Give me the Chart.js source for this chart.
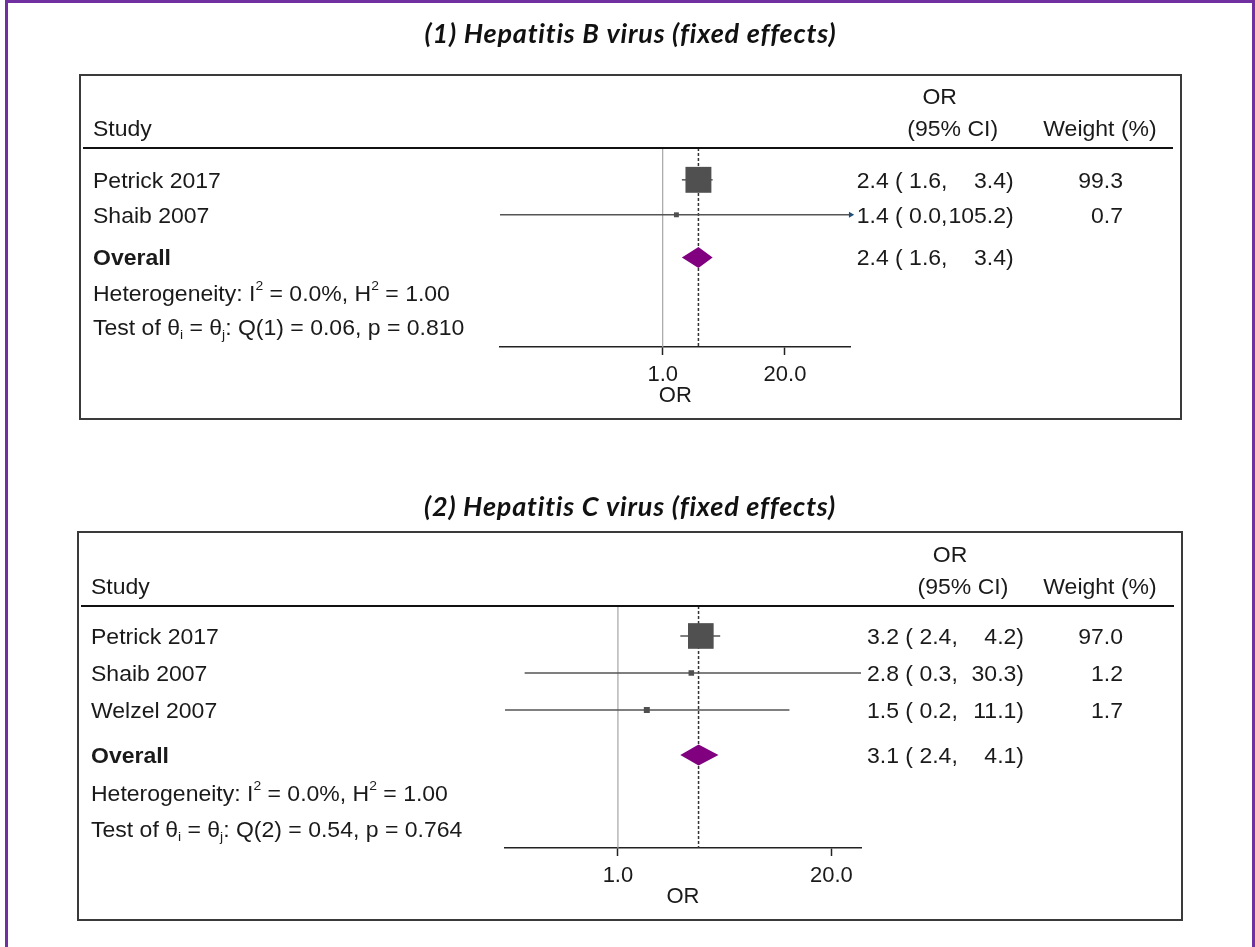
<!DOCTYPE html>
<html><head><meta charset="utf-8">
<script src="https://cdn.jsdelivr.net/npm/chart.js@4.4.1/dist/chart.umd.min.js"></script>
<style>
html,body{margin:0;padding:0;background:#fff;}
body{width:1255px;height:947px;position:relative;overflow:hidden;}
#frame{position:absolute;left:5px;top:0;width:1244px;height:980px;border:3px solid #7030a0;border-bottom:none;}
canvas{position:absolute;left:0;}
#c1{top:0}
#c2{top:470px}
</style></head><body>
<div id="frame"></div>
<canvas id="c1" width="1255" height="470"></canvas>
<canvas id="c2" width="1255" height="477"></canvas>
<script>
// ---------------- data ----------------
const titles = ['(1) Hepatitis B virus (fixed effects)', '(2) Hepatitis C virus (fixed effects)'];

const hbvStudies = ['Petrick 2017', 'Shaib 2007'];
const hbvOR      = [2.4, 1.4];
const hbvLower   = [1.6, 0.0186];
const hbvUpper   = [3.4, 105.2];
const hbvWeight  = [99.3, 0.7];

const hcvStudies = ['Petrick 2017', 'Shaib 2007', 'Welzel 2007'];
const hcvOR      = [3.2, 2.8, 1.5];
const hcvLower   = [2.4, 0.27, 0.205];
const hcvUpper   = [4.2, 30.3, 11.1];
const hcvWeight  = [97.0, 1.2, 1.7];

const overallOR    = [2.4, 3.1];
const overallLower = [1.6, 2.4];
const overallUpper = [3.4, 4.1];

const hetI2 = [0.0, 0.0];
const hetH2 = [1.00, 1.00];
const hetQ  = [0.06, 0.54];
const hetDf = [1, 2];
const hetP  = [0.810, 0.764];

const xTickValues = [1, 20];
const xTickLabels = ['1.0', '20.0'];
const axisMaxCap  = [100, null];

// ---------------- layout (positions only) ----------------
const layouts = [
  {canvas:'c1', H:470, left:500, right:850.7, top:148, bottom:347, box:[80,75,1181,419], titleY:34, studyX:93, yMin:0.09, yMax:5.78},
  {canvas:'c2', H:477, left:505, right:861, top:136, bottom:378, box:[78,62,1182,450], titleY:37, studyX:91, yMin:0.19, yMax:6.73}
];

const FONT = '"Liberation Sans", Arial, Helvetica, sans-serif';
const FS = 21.5;      // table font size
const SX = 1.07;      // horizontal stretch of table text
const DY = 2;         // baseline nudge of table text
const TXT = '#1a1a1a';
const AXIS_H = 60;

function txt(ctx, s, x, y, align, bold) {
  ctx.save();
  ctx.font = (bold ? 'bold ' : '') + FS + 'px ' + FONT;
  ctx.textAlign = align;
  ctx.translate(x, y + DY); ctx.scale(SX, 1);
  ctx.fillText(s, 0, 0);
  ctx.restore();
}

function rich(ctx, x, y, segs) {
  let cx = x;
  for (const s of segs) {
    const small = s.sup || s.sub;
    ctx.save();
    ctx.font = (small ? '13px ' : FS + 'px ') + FONT;
    ctx.textAlign = 'left';
    const dy = s.sup ? -9 : (s.sub ? 6 : 0);
    ctx.translate(cx, y + dy + DY); ctx.scale(SX, 1);
    ctx.fillText(s.t, 0, 0);
    cx += ctx.measureText(s.t).width * SX;
    ctx.restore();
  }
}

function makePanel(k, studies, or, lo, hi, w) {
  const L = layouts[k];
  const n = studies.length;
  const rowY = studies.map((_, i) => i + 1);
  const yOverall = n + 1.22, yHet = n + 2.25, yTest = n + 3.22;
  const xMin = Math.min(...lo);
  const xMax = axisMaxCap[k] != null ? axisMaxCap[k] : Math.max(...hi);

  const datasets = [];
  datasets.push({
    label:'null', data:[{x:1,y:L.yMin},{x:1,y:L.yMax}], showLine:true,
    borderColor:'#a6a6a6', borderWidth:1.2, pointRadius:0, order:6, clip:false
  });
  datasets.push({
    label:'overall line', data:[{x:overallOR[k],y:L.yMin},{x:overallOR[k],y:L.yMax}], showLine:true,
    borderColor:'#333', borderWidth:1.5, borderDash:[3,2], pointRadius:0, order:5, clip:false
  });
  studies.forEach((s, i) => {
    datasets.push({
      label:s + ' CI',
      data:[{x:Math.max(lo[i], xMin), y:rowY[i]}, {x:Math.min(hi[i], xMax), y:rowY[i]}],
      showLine:true, borderColor:'#555', borderWidth:1.5,
      pointRadius:[0, hi[i] > xMax ? 3.5 : 0], pointStyle:'triangle', rotation:90,
      pointBackgroundColor:'#1f4e79', pointBorderWidth:0, order:3, clip:false
    });
  });
  datasets.push({
    label:'OR', data:studies.map((s, i) => ({x:or[i], y:rowY[i]})),
    pointStyle:'rect', pointRadius:w.map(v => (3 + 2.3 * Math.sqrt(v)) / 1.4142),
    backgroundColor:'#505050', pointBorderWidth:0, showLine:false, order:1, clip:false
  });

  const decor = {
    id:'decor' + k,
    afterDatasetsDraw(chart) {
      const ctx = chart.ctx, xs = chart.scales.x, ys = chart.scales.y;
      const x1 = xs.getPixelForValue(overallLower[k]);
      const xc = xs.getPixelForValue(overallOR[k]);
      const x2 = xs.getPixelForValue(overallUpper[k]);
      const yc = ys.getPixelForValue(yOverall);
      ctx.save();
      ctx.fillStyle = '#800080';
      ctx.beginPath();
      ctx.moveTo(x1, yc); ctx.lineTo(xc, yc - 10.5); ctx.lineTo(x2, yc); ctx.lineTo(xc, yc + 10.5);
      ctx.closePath(); ctx.fill();
      ctx.restore();
    },
    afterDraw(chart) {
      const ctx = chart.ctx, ys = chart.scales.y, ca = chart.chartArea;
      ctx.save();
      const b = L.box;
      ctx.strokeStyle = '#3a3a3a'; ctx.lineWidth = 2;
      ctx.strokeRect(b[0], b[1], b[2] - b[0], b[3] - b[1]);
      // title
      ctx.fillStyle = '#111';
      ctx.textAlign = 'center'; ctx.textBaseline = 'middle';
      ctx.font = 'italic 700 27px Lato, "Open Sans", sans-serif';
      ctx.letterSpacing = '0.8px';
      ctx.fillText(titles[k], (b[0] + b[2]) / 2, L.titleY);
      ctx.letterSpacing = '0px';
      // header rule
      ctx.strokeStyle = '#111'; ctx.lineWidth = 2;
      ctx.beginPath(); ctx.moveTo(b[0] + 3, ca.top); ctx.lineTo(b[2] - 8, ca.top); ctx.stroke();
      // header texts
      ctx.fillStyle = TXT;
      const ciStart = ca.right + 6, ciEnd = ciStart + 157, wRight = 1123;
      txt(ctx, 'Study', L.studyX, ca.top - 19.5, 'left');
      txt(ctx, 'OR', ciStart + 83, ca.top - 52, 'center');
      txt(ctx, '(95% CI)', ciStart + 96, ca.top - 19.5, 'center');
      txt(ctx, 'Weight (%)', 1100, ca.top - 19.5, 'center');
      studies.forEach((s, i) => {
        const y = ys.getPixelForValue(rowY[i]);
        txt(ctx, s, L.studyX, y, 'left');
        txt(ctx, or[i].toFixed(1) + ' ( ' + lo[i].toFixed(1) + ',', ciStart, y, 'left');
        txt(ctx, hi[i].toFixed(1) + ')', ciEnd, y, 'right');
        txt(ctx, w[i].toFixed(1), wRight, y, 'right');
      });
      const y = ys.getPixelForValue(yOverall);
      txt(ctx, 'Overall', L.studyX, y, 'left', true);
      txt(ctx, overallOR[k].toFixed(1) + ' ( ' + overallLower[k].toFixed(1) + ',', ciStart, y, 'left');
      txt(ctx, overallUpper[k].toFixed(1) + ')', ciEnd, y, 'right');
      rich(ctx, L.studyX, ys.getPixelForValue(yHet), [
        {t:'Heterogeneity: I'}, {t:'2', sup:true}, {t:' = ' + hetI2[k].toFixed(1) + '%, H'}, {t:'2', sup:true},
        {t:' = ' + hetH2[k].toFixed(2)}
      ]);
      rich(ctx, L.studyX, ys.getPixelForValue(yTest), [
        {t:'Test of \u03B8'}, {t:'i', sub:true}, {t:' = \u03B8'}, {t:'j', sub:true},
        {t:': Q(' + hetDf[k] + ') = ' + hetQ[k].toFixed(2) + ', p = ' + hetP[k].toFixed(3)}
      ]);
      ctx.restore();
    }
  };

  return new Chart(document.getElementById(L.canvas), {
    type:'scatter',
    data:{datasets},
    options:{
      responsive:false, animation:false, events:[],
      layout:{padding:{left:L.left, right:1255 - L.right, top:L.top, bottom:L.H - L.bottom - AXIS_H}},
      plugins:{legend:{display:false}, tooltip:{enabled:false}, title:{display:false}},
      scales:{
        x:{
          type:'logarithmic', min:xMin, max:xMax,
          afterBuildTicks:(s) => { s.ticks = xTickValues.map(v => ({value:v})); },
          afterFit:(s) => { s.height = AXIS_H; },
          ticks:{
            autoSkip:false, maxRotation:0, padding:9, color:TXT,
            font:{family:FONT, size:22, lineHeight:1},
            callback:(v) => xTickLabels[xTickValues.indexOf(v)]
          },
          grid:{display:true, drawOnChartArea:false, drawTicks:true, tickLength:8, tickColor:'#222', tickWidth:1.5},
          border:{display:true, color:'#222', width:1.5},
          title:{display:true, text:'OR', color:TXT, font:{family:FONT, size:22, lineHeight:1}, padding:{top:-3, bottom:0}}
        },
        y:{type:'linear', display:false, reverse:true, min:L.yMin, max:L.yMax}
      }
    },
    plugins:[decor]
  });
}

makePanel(0, hbvStudies, hbvOR, hbvLower, hbvUpper, hbvWeight);
makePanel(1, hcvStudies, hcvOR, hcvLower, hcvUpper, hcvWeight);
</script>
</body></html>
